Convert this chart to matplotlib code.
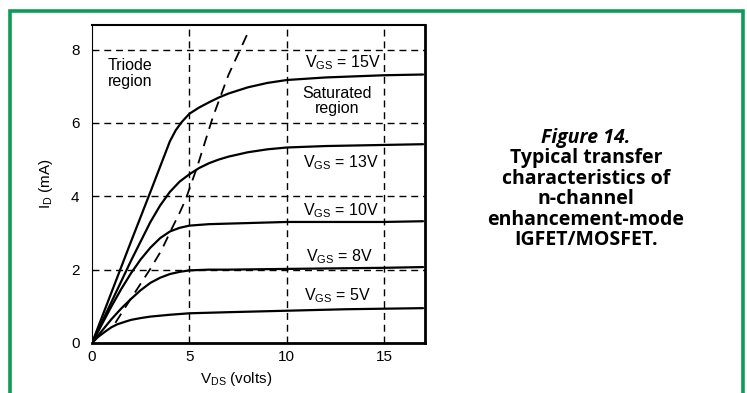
import matplotlib
matplotlib.use('Agg')
import matplotlib.pyplot as plt
from matplotlib.patches import Rectangle

plt.rcParams['font.family'] = ['Liberation Sans', 'DejaVu Sans']
plt.rcParams['mathtext.default'] = 'regular'

vds_15 = [0, 1, 2, 3, 4, 4.3, 4.6, 5, 5.5, 6, 6.5, 7, 8, 9, 10, 12, 15, 17]
id_15 = [0, 1.38, 2.76, 4.12, 5.5, 5.8, 6.02, 6.25, 6.42, 6.56, 6.69, 6.8, 6.97, 7.09, 7.17, 7.24, 7.3, 7.32]

vds_13 = [0, 1, 2, 3, 3.5, 4, 4.5, 5, 5.5, 6, 6.5, 7, 8, 9, 10, 12, 15, 17]
id_13 = [0, 1.12, 2.24, 3.3, 3.75, 4.12, 4.4, 4.6, 4.77, 4.9, 5.0, 5.08, 5.2, 5.28, 5.33, 5.37, 5.4, 5.42]

vds_10 = [0, 1, 1.5, 2, 2.5, 3, 3.5, 4, 4.5, 5, 5.5, 6, 8, 10, 15, 17]
id_10 = [0, 1.0, 1.47, 1.9, 2.28, 2.6, 2.86, 3.04, 3.14, 3.2, 3.22, 3.24, 3.27, 3.3, 3.3, 3.32]

vds_8 = [0, 1, 1.5, 2, 2.5, 3, 3.5, 4, 4.5, 5, 6, 7, 10, 15, 17]
id_8 = [0, 0.65, 0.94, 1.2, 1.44, 1.64, 1.78, 1.88, 1.94, 1.98, 2.0, 2.0, 2.02, 2.05, 2.07]

vds_5 = [0, 0.3, 0.7, 1.0, 1.3, 1.7, 2, 2.5, 3, 4, 5, 7, 10, 13, 17]
id_5 = [0, 0.16, 0.32, 0.43, 0.51, 0.58, 0.63, 0.68, 0.72, 0.77, 0.81, 0.84, 0.88, 0.92, 0.95]

# boundary between triode and saturated regions
edge_vds = [1.2, 1.95, 2.97, 3.57, 4.08, 4.5, 4.8, 5.4, 6.2, 7.0, 8.0]
edge_id = [0.55, 1.17, 2.0, 2.53, 3.1, 3.55, 3.9, 4.8, 6.15, 7.3, 8.45]

curves = [(vds_15, id_15), (vds_13, id_13), (vds_10, id_10), (vds_8, id_8), (vds_5, id_5)]
vgs_labels = ['15V', '13V', '10V', '8V', '5V']
vgs_label_pos = [(12.9, 7.65), (12.8, 4.93), (12.8, 3.62), (12.7, 2.35), (12.6, 1.28)]

x_ticks = [0, 5, 10, 15]
y_ticks = [0, 2, 4, 6, 8]

caption = ['Typical transfer', 'characteristics of', 'n-channel',
           'enhancement-mode', 'IGFET/MOSFET.']

fig = plt.figure(figsize=(7.47, 3.93), dpi=100)
W, H = 747, 393

# green frame, open at the bottom
fig.patches.append(Rectangle((9.5 / W, -0.05), (742.5 - 9.5) / W, (H - 10.5) / H + 0.05,
                             transform=fig.transFigure, fill=False,
                             edgecolor='#109a58', lw=2.6))

ax = fig.add_axes([92 / W, (H - 343) / H, (425 - 92) / W, (343 - 25) / H])
ax.set_xlim(0, 17.1)
ax.set_ylim(0, 8.67)

dash = (0, (5, 3.5))
for x in x_ticks[1:]:
    ax.axvline(x, color='black', lw=1.0, ls=dash, zorder=1)
for y in y_ticks[1:]:
    ax.axhline(y, color='black', lw=1.0, ls=dash, zorder=1)

for vx, vy in curves:
    ax.plot(vx, vy, color='black', lw=1.6, solid_joinstyle='round',
            solid_capstyle='round', zorder=3)

ax.plot(edge_vds, edge_id, color='black', lw=1.3, ls=(0, (6, 4)), zorder=2)

for lab, (lx, ly) in zip(vgs_labels, vgs_label_pos):
    ax.text(lx, ly, r'V$_{GS}$ = ' + lab, ha='center', va='center', fontsize=11.5)

ax.text(0.8, 7.35, 'Triode\nregion', ha='left', va='center', fontsize=11.5, linespacing=1.05)
ax.text(12.6, 6.6, 'Saturated\nregion', ha='center', va='center', fontsize=11.5, linespacing=1.05)

ax.set_xticks(x_ticks)
ax.set_yticks(y_ticks)
ax.tick_params(length=0, labelsize=11)
ax.tick_params(axis='y', pad=9)
ax.tick_params(axis='x', pad=5)

ax.set_xlabel(r'V$_{DS}$ (volts)', fontsize=11)
ax.set_ylabel(r'I$_{D}$ (mA)', fontsize=11)
ax.xaxis.set_label_coords(0.434, -0.085)
ax.yaxis.set_label_coords(-0.11, 0.5)

ax.spines['right'].set_linewidth(2.0)
ax.spines['bottom'].set_linewidth(2.0)
ax.spines['top'].set_linewidth(1.5)
ax.spines['left'].set_linewidth(0.8)

# caption block on the right
cx = 586 / W
fig.text(cx, 1 - 138 / H, 'Figure 14.', ha='center', va='center',
         family='Open Sans', weight='bold', style='italic', fontsize=14)
for i, line in enumerate(caption):
    fig.text(cx, 1 - (158.4 + 20.4 * i) / H, line, ha='center', va='center',
             family='Open Sans', weight='bold', fontsize=14)

fig.savefig('out.png', dpi=100)
